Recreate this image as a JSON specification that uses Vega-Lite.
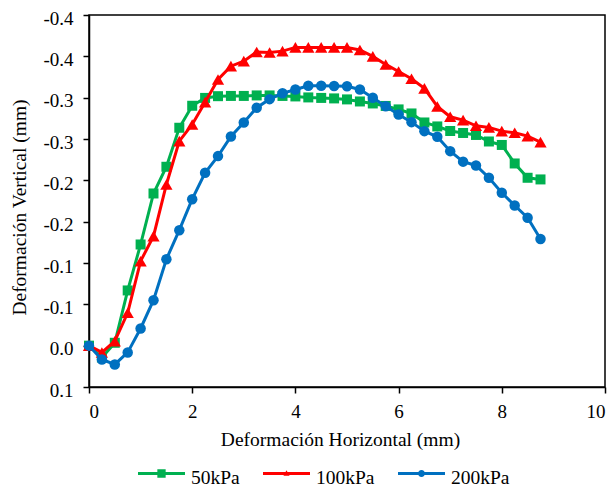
{
  "$schema": "https://vega.github.io/schema/vega-lite/v6.json",
  "width": 516,
  "height": 372,
  "autosize": {"type": "none"},
  "padding": {"left": 89, "top": 15, "right": 11, "bottom": 100},
  "background": "white",
  "config": {
    "font": "Liberation Serif",
    "view": {"stroke": "black", "strokeWidth": 1.5},
    "axis": {
      "grid": false,
      "domainColor": "black",
      "domainWidth": 1.5,
      "tickColor": "black",
      "tickWidth": 1.5,
      "tickSize": 6,
      "labelFont": "Liberation Serif",
      "labelFontSize": 19,
      "labelColor": "black",
      "titleFont": "Liberation Serif",
      "titleFontSize": 19.5,
      "titleFontWeight": "normal",
      "titleColor": "black"
    }
  },
  "data": {
    "values": [
      {"serie": "50kPa", "x": 0, "y": 0},
      {"serie": "50kPa", "x": 0.25, "y": 0.0143},
      {"serie": "50kPa", "x": 0.5, "y": -0.0035},
      {"serie": "50kPa", "x": 0.75, "y": -0.0668},
      {"serie": "50kPa", "x": 1, "y": -0.1224},
      {"serie": "50kPa", "x": 1.25, "y": -0.1841},
      {"serie": "50kPa", "x": 1.5, "y": -0.2164},
      {"serie": "50kPa", "x": 1.75, "y": -0.2636},
      {"serie": "50kPa", "x": 2, "y": -0.2902},
      {"serie": "50kPa", "x": 2.25, "y": -0.2997},
      {"serie": "50kPa", "x": 2.5, "y": -0.3018},
      {"serie": "50kPa", "x": 2.75, "y": -0.3021},
      {"serie": "50kPa", "x": 3, "y": -0.3021},
      {"serie": "50kPa", "x": 3.25, "y": -0.3027},
      {"serie": "50kPa", "x": 3.5, "y": -0.3027},
      {"serie": "50kPa", "x": 3.75, "y": -0.3021},
      {"serie": "50kPa", "x": 4, "y": -0.3015},
      {"serie": "50kPa", "x": 4.25, "y": -0.3003},
      {"serie": "50kPa", "x": 4.5, "y": -0.2997},
      {"serie": "50kPa", "x": 4.75, "y": -0.2991},
      {"serie": "50kPa", "x": 5, "y": -0.2979},
      {"serie": "50kPa", "x": 5.25, "y": -0.2954},
      {"serie": "50kPa", "x": 5.5, "y": -0.293},
      {"serie": "50kPa", "x": 5.75, "y": -0.29},
      {"serie": "50kPa", "x": 6, "y": -0.2858},
      {"serie": "50kPa", "x": 6.25, "y": -0.2809},
      {"serie": "50kPa", "x": 6.5, "y": -0.27},
      {"serie": "50kPa", "x": 6.75, "y": -0.2652},
      {"serie": "50kPa", "x": 7, "y": -0.2597},
      {"serie": "50kPa", "x": 7.25, "y": -0.2573},
      {"serie": "50kPa", "x": 7.5, "y": -0.2549},
      {"serie": "50kPa", "x": 7.75, "y": -0.247},
      {"serie": "50kPa", "x": 8, "y": -0.2428},
      {"serie": "50kPa", "x": 8.25, "y": -0.2204},
      {"serie": "50kPa", "x": 8.5, "y": -0.2031},
      {"serie": "50kPa", "x": 8.75, "y": -0.2011},
      {"serie": "100kPa", "x": 0, "y": 0},
      {"serie": "100kPa", "x": 0.25, "y": 0.0082},
      {"serie": "100kPa", "x": 0.5, "y": -0.0054},
      {"serie": "100kPa", "x": 0.75, "y": -0.0398},
      {"serie": "100kPa", "x": 1, "y": -0.1022},
      {"serie": "100kPa", "x": 1.25, "y": -0.1325},
      {"serie": "100kPa", "x": 1.5, "y": -0.195},
      {"serie": "100kPa", "x": 1.75, "y": -0.2474},
      {"serie": "100kPa", "x": 2, "y": -0.2676},
      {"serie": "100kPa", "x": 2.25, "y": -0.2946},
      {"serie": "100kPa", "x": 2.5, "y": -0.322},
      {"serie": "100kPa", "x": 2.75, "y": -0.3381},
      {"serie": "100kPa", "x": 3, "y": -0.3442},
      {"serie": "100kPa", "x": 3.25, "y": -0.3553},
      {"serie": "100kPa", "x": 3.5, "y": -0.3547},
      {"serie": "100kPa", "x": 3.75, "y": -0.3563},
      {"serie": "100kPa", "x": 4, "y": -0.3608},
      {"serie": "100kPa", "x": 4.25, "y": -0.3608},
      {"serie": "100kPa", "x": 4.5, "y": -0.3608},
      {"serie": "100kPa", "x": 4.75, "y": -0.3608},
      {"serie": "100kPa", "x": 5, "y": -0.3608},
      {"serie": "100kPa", "x": 5.25, "y": -0.3577},
      {"serie": "100kPa", "x": 5.5, "y": -0.3499},
      {"serie": "100kPa", "x": 5.75, "y": -0.3402},
      {"serie": "100kPa", "x": 6, "y": -0.3317},
      {"serie": "100kPa", "x": 6.25, "y": -0.3229},
      {"serie": "100kPa", "x": 6.5, "y": -0.3112},
      {"serie": "100kPa", "x": 6.75, "y": -0.2894},
      {"serie": "100kPa", "x": 7, "y": -0.2769},
      {"serie": "100kPa", "x": 7.25, "y": -0.2728},
      {"serie": "100kPa", "x": 7.5, "y": -0.266},
      {"serie": "100kPa", "x": 7.75, "y": -0.264},
      {"serie": "100kPa", "x": 8, "y": -0.2595},
      {"serie": "100kPa", "x": 8.25, "y": -0.2576},
      {"serie": "100kPa", "x": 8.5, "y": -0.2535},
      {"serie": "100kPa", "x": 8.75, "y": -0.2462},
      {"serie": "200kPa", "x": 0, "y": 0},
      {"serie": "200kPa", "x": 0.25, "y": 0.0167},
      {"serie": "200kPa", "x": 0.5, "y": 0.0227},
      {"serie": "200kPa", "x": 0.75, "y": 0.0082},
      {"serie": "200kPa", "x": 1, "y": -0.0208},
      {"serie": "200kPa", "x": 1.25, "y": -0.055},
      {"serie": "200kPa", "x": 1.5, "y": -0.1046},
      {"serie": "200kPa", "x": 1.75, "y": -0.1397},
      {"serie": "200kPa", "x": 2, "y": -0.1772},
      {"serie": "200kPa", "x": 2.25, "y": -0.2092},
      {"serie": "200kPa", "x": 2.5, "y": -0.2293},
      {"serie": "200kPa", "x": 2.75, "y": -0.2531},
      {"serie": "200kPa", "x": 3, "y": -0.27},
      {"serie": "200kPa", "x": 3.25, "y": -0.2878},
      {"serie": "200kPa", "x": 3.5, "y": -0.2982},
      {"serie": "200kPa", "x": 3.75, "y": -0.3053},
      {"serie": "200kPa", "x": 4, "y": -0.3099},
      {"serie": "200kPa", "x": 4.25, "y": -0.3144},
      {"serie": "200kPa", "x": 4.5, "y": -0.3144},
      {"serie": "200kPa", "x": 4.75, "y": -0.3142},
      {"serie": "200kPa", "x": 5, "y": -0.3139},
      {"serie": "200kPa", "x": 5.25, "y": -0.3099},
      {"serie": "200kPa", "x": 5.5, "y": -0.2999},
      {"serie": "200kPa", "x": 5.75, "y": -0.2897},
      {"serie": "200kPa", "x": 6, "y": -0.2797},
      {"serie": "200kPa", "x": 6.25, "y": -0.2704},
      {"serie": "200kPa", "x": 6.5, "y": -0.2595},
      {"serie": "200kPa", "x": 6.75, "y": -0.2527},
      {"serie": "200kPa", "x": 7, "y": -0.2353},
      {"serie": "200kPa", "x": 7.25, "y": -0.2226},
      {"serie": "200kPa", "x": 7.5, "y": -0.218},
      {"serie": "200kPa", "x": 7.75, "y": -0.2031},
      {"serie": "200kPa", "x": 8, "y": -0.185},
      {"serie": "200kPa", "x": 8.25, "y": -0.1696},
      {"serie": "200kPa", "x": 8.5, "y": -0.1547},
      {"serie": "200kPa", "x": 8.75, "y": -0.1291}
    ]
  },
  "encoding": {
    "x": {
      "field": "x",
      "type": "quantitative",
      "scale": {"domain": [0, 10], "nice": false},
      "axis": {
        "values": [0, 2, 4, 6, 8, 10],
        "title": "Deformación Horizontal (mm)",
        "labelPadding": 9,
        "titleX": 251,
        "titleY": 58,
        "titleBaseline": "alphabetic"
      }
    },
    "y": {
      "field": "y",
      "type": "quantitative",
      "scale": {"domain": [-0.4, 0.05], "reverse": true, "nice": false, "zero": false},
      "axis": {
        "values": [-0.4, -0.35, -0.3, -0.25, -0.2, -0.15, -0.1, -0.05, 0, 0.05],
        "labelExpr": "replace(format(datum.value + (datum.value < 0 ? -0.000001 : 0.000001), '.1f'), '\u2212', '-')",
        "labelPadding": 10,
        "labelOffset": 3,
        "title": "Deformación Vertical (mm)",
        "titleX": -64,
        "titleY": 192,
        "titleBaseline": "alphabetic"
      }
    }
  },
  "layer": [
    {
      "transform": [{"filter": "datum.serie === '50kPa'"}],
      "mark": {
        "type": "line",
        "strokeWidth": 3,
        "color": "#00B050",
        "point": {"shape": "square", "size": 100, "filled": true, "opacity": 1, "color": "#00B050"}
      }
    },
    {
      "transform": [{"filter": "datum.serie === '100kPa'"}],
      "mark": {
        "type": "line",
        "strokeWidth": 3,
        "color": "#FF0000",
        "point": {"shape": "triangle-up", "size": 150, "filled": true, "opacity": 1, "color": "#FF0000"}
      }
    },
    {
      "transform": [{"filter": "datum.serie === '200kPa'"}],
      "mark": {
        "type": "line",
        "strokeWidth": 3,
        "color": "#0070C0",
        "point": {"shape": "circle", "size": 110, "filled": true, "opacity": 1, "color": "#0070C0"}
      }
    },
    {
      "mark": {"type": "point", "filled": true, "opacity": 0},
      "encoding": {
        "color": {
          "field": "serie",
          "type": "nominal",
          "scale": {"domain": ["50kPa", "100kPa", "200kPa"], "range": ["#00B050", "#FF0000", "#0070C0"]},
          "legend": {
            "orient": "none",
            "legendX": 49,
            "legendY": 439,
            "direction": "horizontal",
            "title": null,
            "padding": 0,
            "symbolSize": 2209,
            "symbolStrokeWidth": 0,
            "symbolOpacity": 1,
            "labelFont": "Liberation Serif",
            "labelFontSize": 19.5,
            "labelColor": "black",
            "labelOffset": 6,
            "labelLimit": 200,
            "columnPadding": 23
          }
        },
        "shape": {
          "field": "serie",
          "type": "nominal",
          "scale": {
            "domain": ["50kPa", "100kPa", "200kPa"],
            "range": [
              "M-1,-0.234H1V-0.106H-1ZM-0.177,-0.347H0.177V0.007H-0.177Z",
              "M-1,-0.234H1V-0.106H-1ZM0,-0.31L0.13,-0.07H-0.13Z",
              "M-1,-0.234H1V-0.106H-1ZM-0.15,-0.17A0.15,0.15 0 1,1 0.15,-0.17A0.15,0.15 0 1,1 -0.15,-0.17Z"
            ]
          },
          "legend": {
            "orient": "none",
            "legendX": 49,
            "legendY": 439,
            "direction": "horizontal",
            "title": null,
            "padding": 0,
            "symbolSize": 2209,
            "symbolStrokeWidth": 0,
            "symbolOpacity": 1,
            "labelFont": "Liberation Serif",
            "labelFontSize": 19.5,
            "labelColor": "black",
            "labelOffset": 6,
            "labelLimit": 200,
            "columnPadding": 23
          }
        }
      }
    }
  ]
}
